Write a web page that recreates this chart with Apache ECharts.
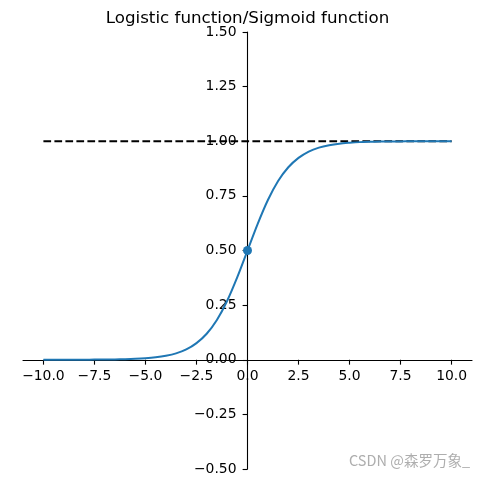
<!DOCTYPE html>
<html><head><meta charset="utf-8">
<script src="https://cdn.jsdelivr.net/npm/echarts@6/dist/echarts.min.js"></script>
<style>html,body{margin:0;padding:0;background:#fff}#c{width:486px;height:480px}</style>
</head><body><div id="c"></div>
<script>
const xValues = [-10,-9.5,-9,-8.5,-8,-7.5,-7,-6.5,-6,-5.5,-5,-4.5,-4,-3.5,-3,-2.5,-2,-1.5,-1,-0.5,0,0.5,1,1.5,2,2.5,3,3.5,4,4.5,5,5.5,6,6.5,7,7.5,8,8.5,9,9.5,10];
const yValues = [0.000,0.0001,0.0001,0.0002,0.0003,0.0006,0.0009,0.0015,0.0025,0.0041,0.0067,0.011,0.018,0.029,0.047,0.076,0.119,0.182,0.269,0.378,0.500,0.622,0.731,0.818,0.881,0.924,0.953,0.971,0.982,0.989,0.993,0.996,0.9975,0.9985,0.999,0.9994,0.9997,0.9998,0.9999,0.9999,1.000];
const asymptoteX = [-10, 10];
const asymptoteY = [1, 1];
const midPointX = [0];
const midPointY = [0.5];
const xTicks = [-10,-7.5,-5,-2.5,0,2.5,5,7.5,10];
const yTicks = [-0.5,-0.25,0,0.25,0.5,0.75,1,1.25,1.5];
const xMin = -11, xMax = 11, yMin = -0.5, yMax = 1.5;
const titleText = 'Logistic function/Sigmoid function';
const watermarkText = 'CSDN @森罗万象_';

const fmt = (v, d) => v.toFixed(d).replace('-', '\u2212');
const font = 'DejaVu Sans';
const W = 486, H = 480;
const gL = 23, gR = 14, gT = 32, gB = 11;
const gW = W - gL - gR, gH = H - gT - gB;
// place axis lines where the other axis crosses zero
const yAxisOffset = -gW * (0 - xMin) / (xMax - xMin);
const xAxisOffset = -gH * (0 - yMin) / (yMax - yMin);

const chart = echarts.init(document.getElementById('c'), null, {renderer: 'canvas'});
chart.setOption({
  animation: false,
  backgroundColor: '#fff',
  title: {
    text: titleText, left: gL + gW / 2, textAlign: 'center', top: 10, padding: 0,
    textStyle: {fontSize: 16.7, fontWeight: 'normal', color: '#000', fontFamily: font}
  },
  grid: {left: gL, right: gR, top: gT, bottom: gB, containLabel: false, outerBoundsMode: 'none'},
  xAxis: {
    type: 'value', min: xMin, max: xMax, position: 'bottom', offset: xAxisOffset,
    axisLine: {show: true, onZero: false, lineStyle: {color: '#000', width: 1.1}},
    axisTick: {show: true, length: 4.9, customValues: xTicks, lineStyle: {color: '#000', width: 1.1}},
    axisLabel: {customValues: xTicks, formatter: v => fmt(v, 1), color: '#000', fontSize: 13.9, fontFamily: font, margin: 10},
    splitLine: {show: false}
  },
  yAxis: {
    type: 'value', min: yMin, max: yMax, interval: 0.25, position: 'left', offset: yAxisOffset,
    axisLine: {show: true, onZero: false, lineStyle: {color: '#000', width: 1.1}},
    axisTick: {show: true, length: 4.9, customValues: yTicks, lineStyle: {color: '#000', width: 1.1}},
    axisLabel: {customValues: yTicks, formatter: v => fmt(v, 2), color: '#000', fontSize: 13.9, fontFamily: font, margin: 11, padding: [4, 0, 0, 0]},
    splitLine: {show: false}
  },
  graphic: [{
    type: 'text', right: 16, bottom: 12, z: 100,
    style: {text: watermarkText, fill: 'rgba(165,165,165,0.9)', font: '14.5px "Noto Sans CJK SC"'}
  }],
  series: [
    {
      type: 'line', data: asymptoteX.map((x, i) => [x, asymptoteY[i]]),
      symbol: 'none', lineStyle: {color: '#000', width: 2, type: [7.7, 3.3]}, z: 3
    },
    {
      type: 'line', data: xValues.map((x, i) => [x, yValues[i]]),
      symbol: 'none', smooth: 0.3, lineStyle: {color: '#1f77b4', width: 2}, z: 4
    },
    {
      type: 'scatter', data: midPointX.map((x, i) => [x, midPointY[i]]),
      symbolSize: 9, itemStyle: {color: '#1f77b4', opacity: 1}, z: 5
    }
  ]
});
</script>
</body></html>
